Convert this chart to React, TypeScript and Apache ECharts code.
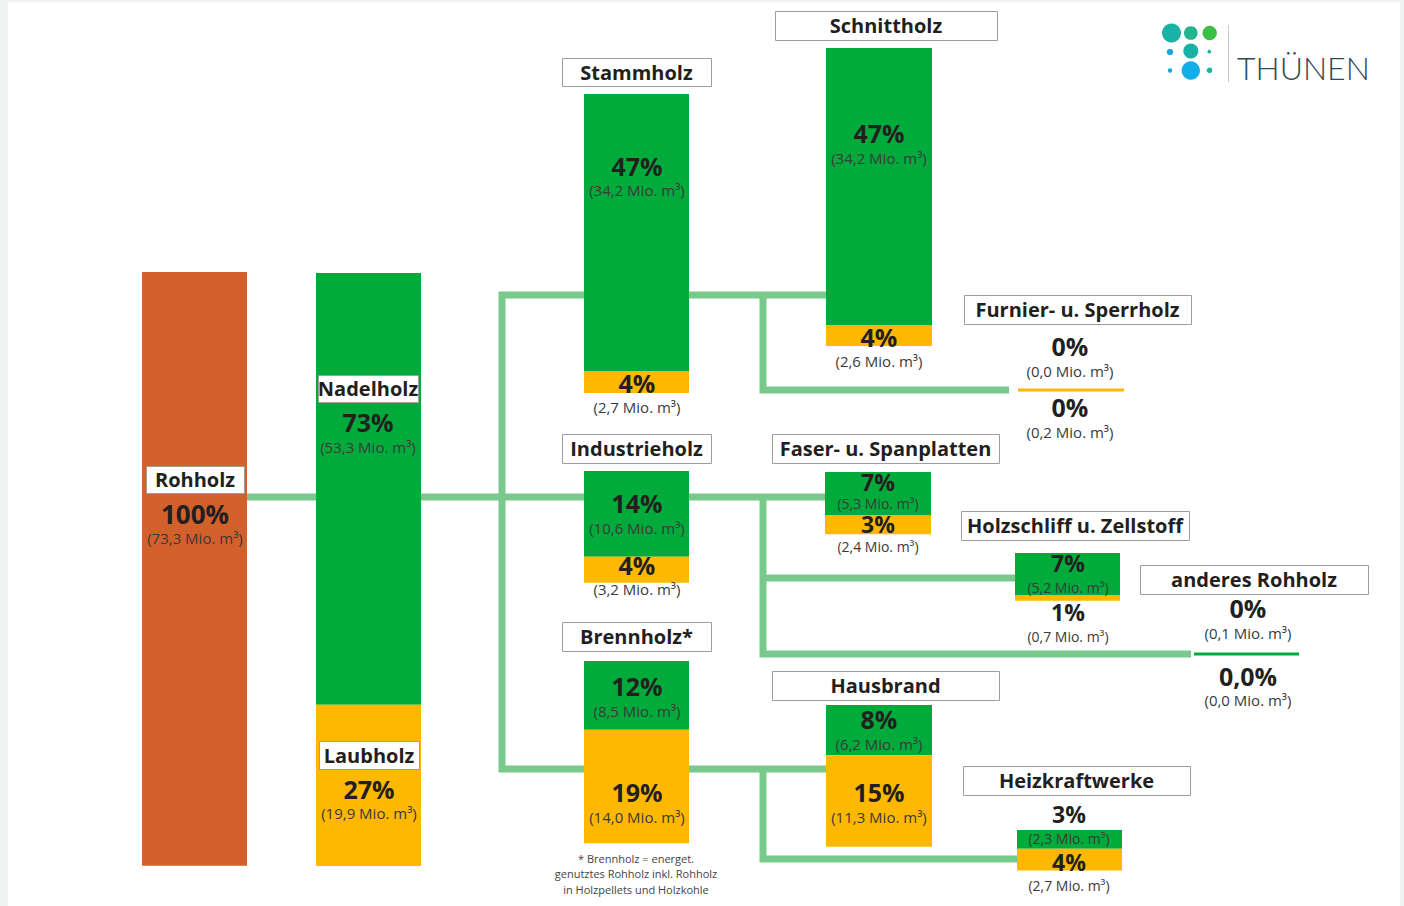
import React, { useEffect, useRef } from "react";
import * as echarts from "echarts";

// ---- data (Mio. m³) ----
const nodeNames = [
  "Rohholz",
  "Holzart",
  "Stammholz",
  "Schnittholz",
  "Furnier- u. Sperrholz",
  "Industrieholz",
  "Faser- u. Spanplatten",
  "Holzschliff u. Zellstoff",
  "anderes Rohholz",
  "Brennholz*",
  "Hausbrand",
  "Heizkraftwerke",
];
const woodTypes = ["Nadelholz", "Laubholz"];
const rohholzTotalMio = 73.3;
const rohholzPct = "100%";
const nadelholzMio = [0, 53.3, 34.2, 34.2, 0.0, 10.6, 5.3, 5.2, 0.1, 8.5, 6.2, 2.3];
const laubholzMio = [0, 19.9, 2.7, 2.6, 0.2, 3.2, 2.4, 0.7, 0.0, 14.0, 11.3, 2.7];
const nadelholzPct = ["", "73%", "47%", "47%", "0%", "14%", "7%", "7%", "0%", "12%", "8%", "3%"];
const laubholzPct = ["", "27%", "4%", "4%", "0%", "4%", "3%", "1%", "0,0%", "19%", "15%", "4%"];
const footnote = [
  "* Brennholz = energet.",
  "genutztes Rohholz inkl. Rohholz",
  "in Holzpellets und Holzkohle",
];

// ---- layout / style ----
const K = 8.1; // px per Mio. m³
const W = 1404;
const H = 906;
const RUST = "#d2602a";
const GREEN = "#00ab3c";
const ORANGE = "#ffb800";
const LINE = "#78c98b";
const DARK = "#231f20";
const SUB = "#3a3a3a";
const FONT = '"Open Sans", "Noto Sans", sans-serif';

type Box = [number, number, number, number];
type Pt = [number, number];
interface Lay {
  x: number;
  top: number;
  w: number;
  boxes: Box[];
  g: Pt[];
  o: Pt[];
  small?: boolean;
}
const layout: Lay[] = [
  { x: 194.5, top: 272, w: 105, boxes: [[146, 466, 98, 27]], g: [[195, 514], [195, 538]], o: [] },
  { x: 368.5, top: 273, w: 105, boxes: [[318, 375, 100, 27], [319, 741, 100, 28]], g: [[368, 422], [368, 447]], o: [[369, 789], [369, 813]] },
  { x: 636.5, top: 94, w: 105, boxes: [[562, 58, 149, 28]], g: [[637, 166], [637, 190]], o: [[637, 383], [637, 407]] },
  { x: 879, top: 48, w: 106, boxes: [[775, 11, 222, 29]], g: [[879, 133], [879, 158]], o: [[879, 337], [879, 361]] },
  { x: 1071, top: 388.5, w: 106, boxes: [[964, 295, 227, 29]], g: [[1070, 346], [1070, 371]], o: [[1070, 407], [1070, 432]] },
  { x: 636.5, top: 471, w: 105, boxes: [[562, 434, 149, 29]], g: [[637, 503], [637, 528]], o: [[637, 565], [637, 589]] },
  { x: 878, top: 472, w: 106, boxes: [[772, 434, 227, 29]], g: [[878, 482], [878, 503]], o: [[878, 524], [878, 546]], small: true },
  { x: 1067.5, top: 553, w: 105, boxes: [[961, 511, 228, 29]], g: [[1068, 563], [1068, 587]], o: [[1068, 612], [1068, 636]], small: true },
  { x: 1246.5, top: 652.5, w: 105, boxes: [[1140, 565, 228, 29]], g: [[1248, 608], [1248, 633]], o: [[1248, 676], [1248, 700]] },
  { x: 636.5, top: 661, w: 105, boxes: [[562, 622, 149, 29]], g: [[637, 686], [637, 711]], o: [[637, 792], [637, 817]] },
  { x: 879, top: 705, w: 106, boxes: [[772, 671, 227, 29]], g: [[879, 719], [879, 744]], o: [[879, 792], [879, 817]] },
  { x: 1069.5, top: 830, w: 105, boxes: [[963, 766, 227, 29]], g: [[1069, 814], [1069, 838]], o: [[1069, 862], [1069, 885]], small: true },
];

const connectors: Pt[][] = [
  [[247, 497], [826, 497]],
  [[826, 295], [502, 295], [502, 769], [826, 769]],
  [[763, 295], [763, 390], [1009, 390]],
  [[763, 497], [763, 654], [1191, 654]],
  [[763, 578], [1015, 578]],
  [[763, 769], [763, 859], [1017, 859]],
];

const fmt = (v: number) => `(${v.toFixed(1).replace(".", ",")} Mio. m³)`;

function txt(text: string, x: number, y: number, size: number, weight: string, fill: string, lh: number) {
  return {
    type: "text",
    style: {
      text,
      x,
      y,
      fill,
      font: `${weight} ${size}px ${FONT}`,
      lineHeight: lh,
      align: "center",
      verticalAlign: "middle",
    },
  };
}

export default function App() {
  const ref = useRef<HTMLDivElement>(null);
  useEffect(() => {
    if (!ref.current) return;
    const chart = echarts.init(ref.current, undefined, { renderer: "svg" });

    const data = nodeNames.map((_, i) => [
      i,
      nadelholzMio[i],
      laubholzMio[i],
      i === 0 ? rohholzTotalMio : 0,
    ]);

    const renderItem = (params: any, api: any) => {
      const i = api.value(0);
      const L = layout[i];
      const g = api.value(1);
      const o = api.value(2);
      const t = api.value(3);
      const p = api.coord([L.x, L.top / K]);
      const xc = p[0];
      let y = p[1];
      const w = api.size([L.w, 0])[0];
      const children: any[] = [];
      const seg = (v: number, color: string) => {
        if (!(v > 0)) return;
        let h = api.size([0, v])[1];
        if (h < 3) h = 3;
        children.push({
          type: "rect",
          shape: { x: xc - w / 2, y, width: w, height: h },
          style: { fill: color },
        });
        y += h;
      };
      seg(t, RUST);
      seg(g, GREEN);
      seg(o, ORANGE);

      const titles = i === 1 ? woodTypes : [nodeNames[i]];
      L.boxes.forEach((b, k) => {
        children.push({
          type: "rect",
          shape: { x: b[0] + 0.5, y: b[1] + 0.5, width: b[2], height: b[3] },
          style: { fill: "#ffffff", stroke: "#9d9d9d", lineWidth: 1 },
        });
        children.push(txt(titles[k], b[0] + b[2] / 2, b[1] + b[3] / 2, 20, "bold", DARK, 20));
      });
      const ps = L.small ? 23 : 25;
      const ss = L.small ? 14 : 15;
      if (i === 0) {
        children.push(txt(rohholzPct, L.g[0][0], L.g[0][1], 26, "bold", DARK, 19));
        children.push(txt(fmt(t), L.g[1][0], L.g[1][1], 15, "normal", SUB, 12));
      } else {
        children.push(txt(nadelholzPct[i], L.g[0][0], L.g[0][1], ps, "bold", DARK, 17));
        children.push(txt(fmt(g), L.g[1][0], L.g[1][1], ss, "normal", SUB, 11));
        children.push(txt(laubholzPct[i], L.o[0][0], L.o[0][1], ps, "bold", DARK, 17));
        children.push(txt(fmt(o), L.o[1][0], L.o[1][1], ss, "normal", SUB, 11));
      }
      return { type: "group", children };
    };

    const logoDots: [number, number, number, string][] = [
      [1171.5, 33, 9.5, "#19b2a5"],
      [1190.8, 33, 6.8, "#22b48e"],
      [1209.7, 33, 7.2, "#39bf44"],
      [1170, 52, 3.3, "#1aa6df"],
      [1190.8, 51, 7.5, "#18b1a3"],
      [1209.3, 51.7, 1.9, "#1db3a0"],
      [1170, 70.5, 2.2, "#1aa6df"],
      [1190.8, 70.5, 9.2, "#12aee8"],
      [1209.5, 70.3, 2.8, "#1ab3a3"],
    ];

    const graphic: any[] = [
      { type: "rect", z: -10, shape: { x: 8, y: 2, width: 1392, height: 904 }, style: { fill: "#ffffff" } },
      ...connectors.map((pts) => ({
        type: "polyline",
        z: 1,
        shape: { points: pts },
        style: { stroke: LINE, lineWidth: 7, fill: null, lineJoin: "miter", lineCap: "butt" },
      })),
      ...footnote.map((line, k) => ({
        type: "text",
        z: 5,
        style: {
          text: line,
          x: 636,
          y: 858 + k * 15.5,
          fill: "#444444",
          font: `normal 11px ${FONT}`,
          lineHeight: 12,
          align: "center",
          verticalAlign: "middle",
        },
      })),
      ...logoDots.map((d) => ({
        type: "circle",
        z: 5,
        shape: { cx: d[0], cy: d[1], r: d[2] },
        style: { fill: d[3] },
      })),
      { type: "line", z: 5, shape: { x1: 1228.5, y1: 25, x2: 1228.5, y2: 82 }, style: { stroke: "#c3cbcb", lineWidth: 1 } },
      {
        type: "text",
        z: 5,
        style: {
          text: "THÜNEN",
          x: 1237,
          y: 67,
          fill: "#2d4b55",
          font: `300 32px Lato, "Open Sans", sans-serif`,
          align: "left",
          verticalAlign: "middle",
        },
      },
    ];

    chart.setOption({
      animation: false,
      backgroundColor: "#eff3f1",
      textStyle: { fontFamily: FONT },
      grid: { left: 0, right: 0, top: 0, bottom: 0, containLabel: false },
      xAxis: { type: "value", min: 0, max: W, show: false },
      yAxis: { type: "value", min: 0, max: H / K, inverse: true, show: false },
      graphic,
      series: [
        {
          type: "custom",
          coordinateSystem: "cartesian2d",
          renderItem,
          data,
          silent: true,
          clip: false,
          z: 3,
        },
      ],
    });
    return () => chart.dispose();
  }, []);
  return (
    <div
      ref={ref}
      style={{ position: "fixed", left: 0, top: 0, width: W, height: H }}
    />
  );
}
